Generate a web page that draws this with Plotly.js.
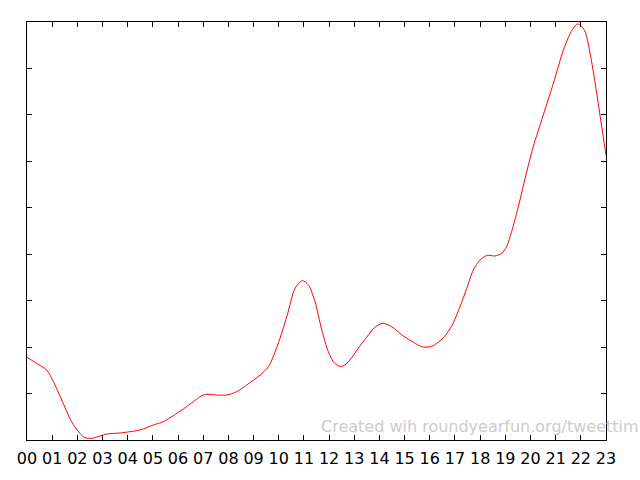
<!DOCTYPE html>
<html>
<head>
<meta charset="utf-8">
<script src="https://cdn.plot.ly/plotly-3.0.1.min.js"></script>
<style>html,body{margin:0;padding:0;background:#fff;overflow:hidden}#chart{width:640px;height:480px}</style>
</head>
<body>
<div id="chart"></div>
<script>
var hours = [0, 0.38, 0.78, 1.05, 1.38, 1.77, 2.1, 2.3, 2.57, 2.9, 3.17, 3.7, 4.09, 4.49, 5.02, 5.41, 5.81, 6.21, 6.61, 6.94, 7.14, 7.53, 7.93, 8.33, 8.73, 9.26, 9.59, 9.78, 10.05, 10.32, 10.65, 10.94, 11.18, 11.44, 11.71, 11.97, 12.17, 12.37, 12.56, 12.83, 13.16, 13.49, 13.82, 14.13, 14.49, 14.95, 15.35, 15.68, 15.85, 16.14, 16.54, 16.87, 17.2, 17.47, 17.73, 18.0, 18.29, 18.59, 18.86, 19.05, 19.25, 19.45, 19.61, 19.78, 20.11, 20.51, 20.91, 21.31, 21.62, 21.87, 22.04, 22.18, 22.38, 22.56, 22.77, 23.0];
var activity = [1.781, 1.652, 1.507, 1.255, 0.861, 0.394, 0.144, 0.050, 0.037, 0.086, 0.129, 0.151, 0.179, 0.215, 0.323, 0.394, 0.523, 0.668, 0.825, 0.954, 0.984, 0.969, 0.969, 1.040, 1.184, 1.400, 1.578, 1.794, 2.190, 2.655, 3.267, 3.430, 3.338, 2.978, 2.369, 1.901, 1.686, 1.593, 1.593, 1.723, 1.975, 2.211, 2.427, 2.513, 2.440, 2.239, 2.104, 2.009, 2.000, 2.031, 2.203, 2.455, 2.870, 3.267, 3.661, 3.876, 3.977, 3.962, 4.020, 4.162, 4.485, 4.882, 5.230, 5.620, 6.316, 7.000, 7.681, 8.400, 8.792, 8.958, 8.900, 8.779, 8.290, 7.715, 6.962, 6.137];
var tickHours = [0,1,2,3,4,5,6,7,8,9,10,11,12,13,14,15,16,17,18,19,20,21,22,23];
var tickLabels = ["00","01","02","03","04","05","06","07","08","09","10","11","12","13","14","15","16","17","18","19","20","21","22","23"];
var watermark = "Created wih roundyearfun.org/tweettim";

var trace = {
  x: hours, y: activity, type: 'scatter', mode: 'lines',
  line: {color: '#ff0000', width: 1, shape: 'spline', smoothing: 0.8},
  hoverinfo: 'skip'
};
var layout = {
  width: 640, height: 480,
  margin: {l: 27, r: 34, t: 22, b: 40, pad: 0},
  paper_bgcolor: '#fff', plot_bgcolor: '#fff',
  showlegend: false,
  font: {family: 'DejaVu Sans', size: 16, color: '#000'},
  xaxis: {
    range: [0, 23], tickmode: 'array', tickvals: tickHours, ticktext: tickLabels,
    ticks: 'inside', ticklen: 5, tickwidth: 1, tickcolor: '#000',
    showline: true, linecolor: '#000', linewidth: 1, mirror: 'ticks',
    showgrid: false, zeroline: false, fixedrange: true, ticklabelstandoff: 4,
    tickfont: {family: 'DejaVu Sans', size: 16, color: '#000'}
  },
  yaxis: {
    range: [0, 9], dtick: 1, tick0: 0,
    ticks: 'inside', ticklen: 5, tickwidth: 1, tickcolor: '#000',
    showline: true, linecolor: '#000', linewidth: 1, mirror: 'ticks',
    showgrid: false, zeroline: false, showticklabels: false, fixedrange: true
  },
  annotations: [{
    text: watermark, xref: 'paper', yref: 'paper',
    x: 0.504, y: 0.033, xanchor: 'left', yanchor: 'middle',
    showarrow: false, font: {family: 'DejaVu Sans', size: 16, color: '#cccccc'}
  }]
};
Plotly.newPlot('chart', [trace], layout, {displayModeBar: false, staticPlot: true});
</script>
</body>
</html>
